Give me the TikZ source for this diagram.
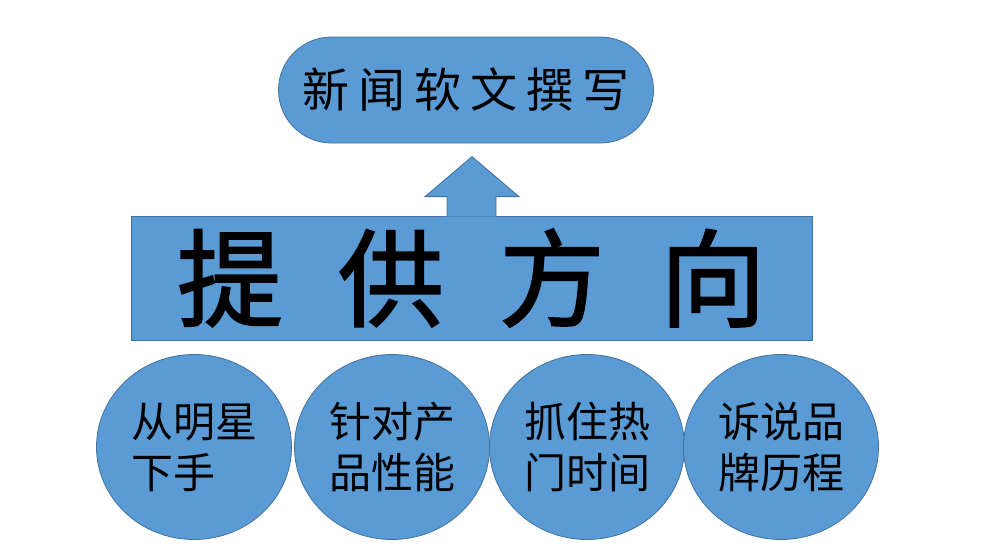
\documentclass[tikz,border=0pt]{standalone}
\usepackage{fontspec}
\usepackage{tikz}
\usetikzlibrary{shapes.geometric}
\newfontfamily\cjk{Noto Sans CJK SC}
\definecolor{boxblue}{RGB}{91,155,213}
\definecolor{edgeblue}{RGB}{65,113,156}

\begin{document}
\begin{tikzpicture}[x=1pt,y=-1pt,
    blob/.style={fill=boxblue,draw=edgeblue,line width=0.8pt},
    idea/.style={blob,ellipse,minimum width=195pt,minimum height=185pt,inner sep=0pt,
      align=left,font=\cjk\fontsize{42}{51}\selectfont}]
  \useasboundingbox (0,0) rectangle (1001,549);
  \node[blob,rounded corners=53pt,minimum width=375pt,minimum height=106pt,
    font=\cjk\fontsize{47}{47}\selectfont] (news) at (466,90) {新\hspace{9pt}闻\hspace{9pt}软\hspace{9pt}文\hspace{9pt}撰\hspace{9pt}写};
  \node[blob,minimum width=681pt,minimum height=124pt,inner sep=0pt,
    font=\cjk\addfontfeature{FakeBold=1.6}\fontsize{106}{106}\selectfont] (dir) at (471.5,278)
    {提\hspace{55pt}供\hspace{55pt}方\hspace{55pt}向};
  % arrow head on top of the banner
  \fill[boxblue] ([xshift=-24.5pt,yshift=-1pt]dir.north) -- ++(0,-20) -- ++(-22,0) -- ++(47,-40)
    -- ++(47,40) -- ++(-23,0) -- ++(0,20) -- cycle;
  \draw[edgeblue,line width=0.8pt] ([xshift=-24.5pt]dir.north) -- ++(0,-19) -- ++(-22,0) -- ++(47,-40)
    -- ++(47,40) -- ++(-23,0) -- ++(0,19);
  \foreach \n/\x/\t in {c1/194/{从明星\\下手},c2/392/{针对产\\品性能},c3/587/{抓住热\\门时间},c4/781/{诉说品\\牌历程}}
    \node[idea] (\n) at (\x,447) {\t};
\end{tikzpicture}
\end{document}
